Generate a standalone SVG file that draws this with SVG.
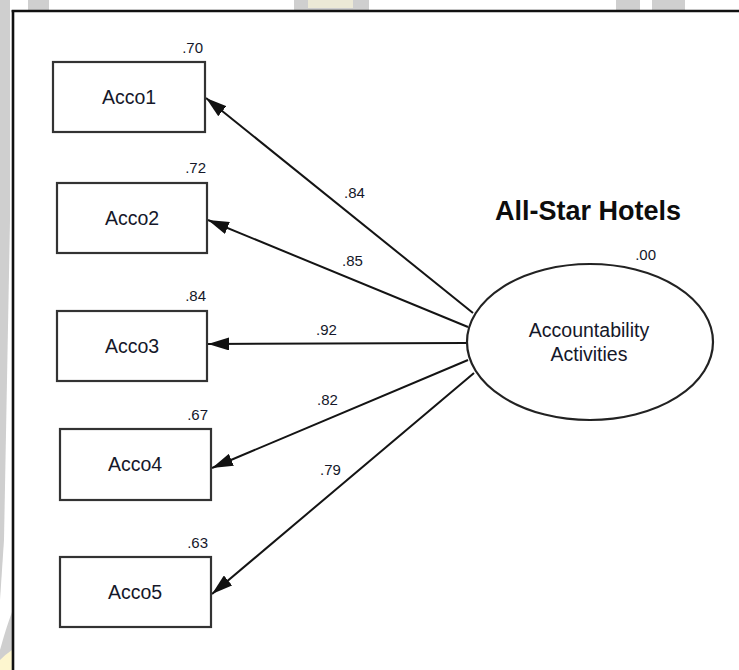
<svg xmlns="http://www.w3.org/2000/svg" width="739" height="670" viewBox="0 0 739 670">
  <style>
    .box { fill: #ffffff; stroke: #333333; stroke-width: 2.2; }
    .lat { fill: #ffffff; stroke: #222222; stroke-width: 2.2; }
    .lbl { font-family: "Liberation Sans", Arial, sans-serif; font-size: 19.5px; fill: #15182a; text-anchor: middle; }
    .num { font-family: "Liberation Sans", Arial, sans-serif; font-size: 15px; fill: #15182a; }
    .title { font-family: "Liberation Sans", Arial, sans-serif; font-size: 27px; font-weight: bold; fill: #0d0d0d; text-anchor: middle; }
    .edge { stroke: #141414; stroke-width: 2; fill: none; marker-end: url(#head); }
    .wm { fill: #cfcfcf; }
  </style>
  <defs>
    <marker id="head" viewBox="0 0 21 13" refX="21" refY="6.5" markerWidth="21" markerHeight="13" markerUnits="userSpaceOnUse" orient="auto">
      <path d="M0,0 L21,6.5 L0,13 z" fill="#111111"/>
    </marker>
  </defs>

  <!-- page background and faint background marks -->
  <rect x="0" y="0" width="739" height="670" fill="#ffffff"/>
  <g id="background-marks">
    <path class="wm" d="M0,0 L10,0 L10,220 L4,540 L0,600 Z"/>
    <path class="wm" d="M0,650 Q6,628 12,612 L12,660 L0,670 Z"/>
    <path d="M0,660 Q6,654 12,650 L12,670 L0,670 Z" fill="#fdf6cf"/>
    <rect class="wm" x="28" y="0" width="21" height="10"/>
    <rect class="wm" x="294" y="0" width="75" height="10"/>
    <rect x="308" y="0" width="45" height="8" fill="#ece9d6"/>
    <rect class="wm" x="616" y="0" width="24" height="10"/>
    <rect class="wm" x="652" y="0" width="33" height="10"/>
  </g>

  <!-- frame -->
  <g id="frame" stroke="#111111" stroke-width="2.6">
    <line x1="13" y1="10" x2="13" y2="670"/>
    <line x1="11.7" y1="11" x2="739" y2="11"/>
  </g>

  <!-- title -->
  <text class="title" x="588" y="220">All-Star Hotels</text>

  <!-- connectors: loadings from the latent factor to each indicator -->
  <g id="connectors">
    <line class="edge" x1="473" y1="313" x2="206" y2="98"/>
    <line class="edge" x1="468" y1="327" x2="208" y2="220"/>
    <line class="edge" x1="466" y1="343" x2="208" y2="344"/>
    <line class="edge" x1="468" y1="360" x2="212" y2="468"/>
    <line class="edge" x1="474" y1="373" x2="212" y2="594"/>
    <text class="num" x="344" y="198">.84</text>
    <text class="num" x="342" y="266">.85</text>
    <text class="num" x="316" y="335">.92</text>
    <text class="num" x="317" y="405">.82</text>
    <text class="num" x="320" y="475">.79</text>
  </g>

  <!-- latent factor -->
  <g id="accountability">
    <ellipse class="lat" cx="590" cy="342" rx="123" ry="78"/>
    <text class="lbl" x="589" y="337" style="font-size:19.5px">Accountability</text>
    <text class="lbl" x="589" y="361" style="font-size:19.5px">Activities</text>
    <text class="num" x="656" y="260" text-anchor="end">.00</text>
  </g>

  <!-- observed indicators -->
  <g id="acco1">
    <rect class="box" x="53" y="62" width="152" height="70"/>
    <text class="lbl" x="129" y="104">Acco1</text>
    <text class="num" x="203" y="53" text-anchor="end">.70</text>
  </g>
  <g id="acco2">
    <rect class="box" x="57" y="183" width="150" height="70"/>
    <text class="lbl" x="132" y="225">Acco2</text>
    <text class="num" x="206" y="173" text-anchor="end">.72</text>
  </g>
  <g id="acco3">
    <rect class="box" x="57" y="311" width="150" height="70"/>
    <text class="lbl" x="132" y="353">Acco3</text>
    <text class="num" x="206" y="301" text-anchor="end">.84</text>
  </g>
  <g id="acco4">
    <rect class="box" x="60" y="429" width="151" height="71"/>
    <text class="lbl" x="135" y="471">Acco4</text>
    <text class="num" x="208" y="420" text-anchor="end">.67</text>
  </g>
  <g id="acco5">
    <rect class="box" x="60" y="557" width="151" height="70"/>
    <text class="lbl" x="135" y="599">Acco5</text>
    <text class="num" x="208" y="548" text-anchor="end">.63</text>
  </g>
</svg>
